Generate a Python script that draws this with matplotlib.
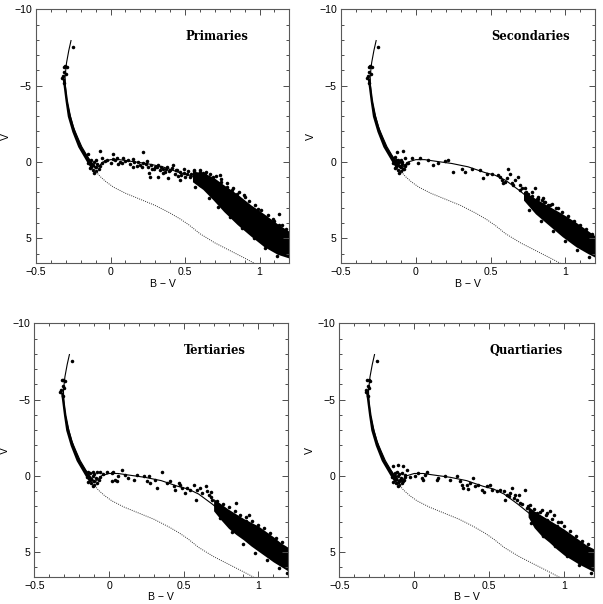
import matplotlib
matplotlib.use('Agg')
import matplotlib.pyplot as plt
from matplotlib.ticker import MultipleLocator

# isochrone (solid) and ZAMS (dotted), same in every panel
iso_bv = [-0.265, -0.28, -0.295, -0.305, -0.303, -0.294, -0.275, -0.25, -0.22, -0.193,
          -0.16, -0.13, -0.11, -0.10, -0.08, -0.05, 0.0, 0.06, 0.13, 0.24, 0.35, 0.46,
          0.53, 0.60, 0.69, 0.80, 0.91, 1.02, 1.13, 1.21]
iso_v = [-7.95, -7.3, -6.5, -5.6, -5.0, -4.05, -3.2, -2.3, -1.6, -1.0,
         -0.45, 0.05, 0.35, 0.45, 0.30, 0.0, -0.15, -0.15, -0.05, 0.10, 0.32, 0.69,
         0.87, 1.20, 1.85, 2.72, 3.60, 4.36, 5.02, 5.46]
zams_bv = [-0.105, -0.07, -0.03, 0.02, 0.10, 0.20, 0.30, 0.40, 0.47, 0.53, 0.60, 0.70,
           0.80, 0.90, 0.97]
zams_v = [0.55, 0.95, 1.30, 1.65, 2.05, 2.45, 2.85, 3.35, 3.75, 4.15, 4.70, 5.30,
          5.80, 6.30, 6.66]

# upper main sequence strip (dense points)
ms_v = [-5.5, -5.0, -4.0, -3.0, -2.0, -1.0, -0.5, 0.0, 0.3]
ms_left = [-0.325, -0.318, -0.305, -0.29, -0.26, -0.22, -0.19, -0.16, -0.14]
ms_right = [-0.307, -0.302, -0.288, -0.268, -0.238, -0.195, -0.163, -0.125, -0.10]

# bright stars at the top and the clump at the turn-off
top_bv = [-0.25, -0.315, -0.305, -0.295, -0.32, -0.31, -0.325, -0.30, -0.31]
top_v = [-7.5, -6.25, -6.3, -6.2, -5.6, -5.9, -5.5, -5.75, -5.2]
clump_bv = [-0.15, -0.13, -0.12, -0.10, -0.10, -0.09, -0.11, -0.13, -0.08, -0.07,
            -0.12, -0.14, -0.10, -0.06, -0.11]
clump_v = [0.10, 0.30, 0.50, 0.60, 0.35, 0.15, 0.00, -0.15, 0.45, 0.25,
           0.20, 0.40, -0.10, 0.05, 0.70]

names = ['Primaries', 'Secondaries', 'Tertiaries', 'Quartiaries']

# Primaries
p1_bv = [-0.148, -0.070, 0.015, 0.221, -0.059, -0.025, 0.019, 0.042, 0.064, 0.087,
         0.120, 0.154, 0.187, 0.199, 0.221, 0.243, 0.254, 0.277, 0.299, 0.322,
         0.333, 0.355, 0.366, 0.378, 0.400, 0.422, 0.434, 0.445, 0.467, 0.490,
         0.512, 0.534, 0.557, 0.568, 0.579, 0.602, 0.613, 0.635, 0.646, 0.669,
         0.691, 0.736, 0.781, 0.814, 0.848, 0.893, 1.005, 1.128, 1.128, 1.094,
         0.266, 0.322, 0.389, 0.568, 0.602, 0.467]
p1_v = [-0.55, -0.71, -0.55, -0.62, -0.23, -0.12, -0.18, -0.27, -0.01, -0.23,
        -0.12, -0.18, -0.01, 0.21, 0.10, -0.05, 0.32, 0.43, 0.32, 0.21,
        0.54, 0.43, 0.65, 0.32, 0.54, 0.21, 0.76, 0.54, 0.65, 0.43,
        0.76, 0.98, 0.60, 0.87, 1.08, 0.69, 0.98, 0.82, 1.08, 1.30,
        0.98, 0.87, 1.63, 1.85, 2.07, 2.18, 3.49, 3.38, 4.15, 4.80,
        0.98, 0.98, 1.08, 1.63, 1.52, 1.19]
p1_more_bv = [-0.04, 0.00, 0.03, 0.05, 0.08, 0.10, 0.13, 0.16, 0.18, 0.21,
              0.24, 0.27, 0.29, 0.31, 0.34, 0.37, 0.39, 0.41, 0.44, 0.47,
              0.49, 0.52, 0.54, 0.59, 0.62, 0.35, 0.26, 0.15, 0.45, 0.50]
p1_more_v = [-0.05, 0.05, -0.10, 0.12, 0.05, -0.05, 0.15, 0.02, 0.25, 0.30,
             0.15, 0.20, 0.45, 0.35, 0.30, 0.45, 0.60, 0.40, 0.55, 0.85,
             0.70, 0.60, 0.80, 0.90, 0.75, 0.75, 0.70, 0.35, 0.95, 1.00]
p1_edge_bv = [0.56, 0.60, 0.64, 0.67, 0.71, 0.74, 0.78, 0.82, 0.86, 0.90,
              0.93, 0.97, 1.01, 1.06, 1.10, 1.15, 1.18, 0.66, 0.72, 0.80,
              0.88, 0.96, 1.04, 1.12, 0.74, 0.83, 0.99, 1.09]
p1_edge_v = [0.50, 0.55, 0.65, 0.80, 0.95, 1.15, 1.40, 1.70, 2.00, 2.30,
             2.55, 2.85, 3.15, 3.50, 3.85, 4.15, 4.40, 2.35, 2.95, 3.60,
             4.35, 5.00, 5.65, 6.15, 1.30, 2.25, 3.10, 3.75]
p1_band_bv = [0.55, 0.62, 0.69, 0.76, 0.85, 0.94, 1.03, 1.12, 1.20]
p1_band_top = [0.60, 0.70, 1.00, 1.50, 2.10, 2.80, 3.40, 4.05, 4.55]
p1_band_bot = [1.30, 1.80, 2.50, 3.25, 4.10, 4.85, 5.55, 6.05, 6.30]

# Secondaries
p2_bv = [-0.128, -0.083, -0.139, -0.117, -0.094, -0.072, -0.106, -0.083, -0.072, -0.128,
         -0.050, -0.028, 0.017, 0.028, 0.084, 0.117, 0.151, 0.195, 0.218, 0.251,
         0.307, 0.329, 0.374, 0.430, 0.452, 0.474, 0.508, 0.552, 0.563, 0.575,
         0.586, 0.597, 0.608, 0.619, 0.630, 0.641, 0.653, 0.664, 0.686, 0.697,
         0.708, 0.731, 0.753, 0.775, 0.798, 0.809, 0.820, 0.842, 0.853, 0.864,
         0.887, 0.909]
p2_v = [-0.66, -0.71, -0.34, -0.12, -0.01, -0.23, 0.25, 0.43, 0.21, 0.10,
        0.10, -0.23, 0.04, -0.23, -0.12, 0.21, 0.10, -0.05, -0.12, 0.69,
        0.43, 0.65, 0.43, 0.54, 1.08, 0.82, 0.76, 0.87, 0.98, 1.19,
        1.41, 1.30, 1.08, 0.43, 0.82, 1.41, 1.52, 1.19, 0.98, 1.52,
        1.74, 1.70, 2.07, 1.96, 1.74, 2.40, 2.29, 2.51, 2.35, 2.62,
        2.83, 2.73]
p2_edge_bv = [0.70, 0.74, 0.78, 0.82, 0.86, 0.90, 0.94, 0.98, 1.02, 1.06,
              1.10, 1.14, 1.18, 0.76, 0.84, 0.92, 1.00, 1.08, 1.16, 0.95, 1.05]
p2_edge_v = [1.85, 2.00, 2.20, 2.45, 2.65, 2.85, 3.05, 3.30, 3.55, 3.85,
             4.15, 4.40, 4.70, 3.15, 3.90, 4.55, 5.20, 5.75, 6.20, 3.00, 3.95]
p2_band_bv = [0.72, 0.80, 0.89, 0.98, 1.07, 1.15, 1.20]
p2_band_top = [1.90, 2.40, 2.90, 3.40, 3.95, 4.50, 4.85]
p2_band_bot = [2.50, 3.40, 4.15, 4.90, 5.55, 6.00, 6.25]

# Tertiaries
p3_bv = [-0.139, -0.105, -0.083, -0.060, -0.038, -0.015, 0.018, 0.029, 0.085, 0.063,
         0.108, 0.130, 0.041, 0.018, 0.052, 0.164, 0.186, 0.231, 0.265, 0.254,
         0.310, 0.276, 0.355, 0.321, 0.388, 0.411, 0.433, 0.444, 0.467, 0.478,
         0.489, 0.511, 0.523, 0.545, 0.567, 0.579, 0.590, 0.612, 0.624, 0.646,
         0.657, 0.668, 0.680, 0.691, 0.713, 0.736, 0.758, 0.780, 0.848, 0.937,
         0.915, 0.960, 1.050, 1.139, 1.157]
p3_v = [-0.28, -0.28, -0.22, -0.28, -0.13, -0.22, -0.18, -0.28, -0.39, 0.00,
        -0.07, 0.15, 0.26, 0.37, 0.37, 0.26, -0.07, 0.04, 0.00, 0.37,
        0.26, 0.48, -0.28, 0.81, 0.48, 0.37, 0.70, 0.92, 0.48, 0.59,
        0.81, 1.14, 0.81, 0.92, 0.59, 1.57, 0.92, 0.81, 1.14, 0.70,
        1.03, 1.24, 1.09, 1.57, 1.90, 2.12, 2.23, 2.55, 1.79, 2.55,
        2.99, 3.54, 3.86, 4.95, 5.17]
p3_edge_bv = [0.68, 0.72, 0.76, 0.80, 0.84, 0.88, 0.92, 0.96, 1.00, 1.04,
              1.08, 1.12, 1.16, 0.74, 0.82, 0.90, 0.98, 1.06, 1.14, 1.19]
p3_edge_v = [1.40, 1.65, 1.85, 2.05, 2.30, 2.55, 2.70, 2.95, 3.20, 3.45,
             3.75, 4.05, 4.35, 2.75, 3.70, 4.45, 5.05, 5.55, 6.05, 6.35]
p3_band_bv = [0.70, 0.75, 0.80, 0.85, 0.90, 0.95, 1.00, 1.05, 1.10, 1.15, 1.20]
p3_band_top = [1.50, 1.85, 2.20, 2.50, 2.80, 3.05, 3.30, 3.65, 4.00, 4.40, 4.70]
p3_band_bot = [2.30, 2.90, 3.45, 3.85, 4.20, 4.60, 4.95, 5.30, 5.65, 5.95, 6.25]

# Quartiaries
p4_bv = [-0.140, -0.107, -0.073, -0.118, -0.084, -0.051, -0.062, -0.129, -0.096, -0.107,
         -0.073, -0.029, 0.005, 0.027, 0.049, 0.060, 0.072, 0.083, 0.150, 0.161,
         0.206, 0.239, 0.284, 0.306, 0.317, 0.328, 0.351, 0.362, 0.373, 0.395,
         0.407, 0.429, 0.451, 0.463, 0.485, 0.507, 0.518, 0.552, 0.574, 0.597,
         0.608, 0.619, 0.630, 0.641, 0.652, 0.663, 0.675, 0.686, 0.697, 0.708,
         0.742, 0.753, 0.775, 0.820, 0.853, 0.887, 0.909, 0.932, 0.887, 0.954,
         1.099]
p4_v = [-0.61, -0.72, -0.66, -0.28, -0.18, -0.39, -0.07, 0.04, 0.26, 0.48,
        0.37, 0.09, 0.00, -0.18, 0.15, 0.26, -0.07, -0.22, 0.26, 0.15,
        0.04, 0.26, 0.04, 0.37, 0.59, 0.81, 0.59, 0.87, 0.48, 0.15,
        0.70, 0.59, 0.92, 1.09, 0.70, 0.59, 0.92, 1.03, 0.92, 1.03,
        1.57, 1.24, 1.35, 1.14, 0.81, 1.46, 1.24, 1.57, 1.24, 1.79,
        0.92, 2.12, 1.90, 2.44, 2.23, 2.44, 2.33, 2.55, 2.88, 3.32,
        4.63]
p4_edge_bv = [0.72, 0.76, 0.80, 0.84, 0.88, 0.92, 0.96, 1.00, 1.04, 1.08,
              1.12, 1.16, 0.78, 0.86, 0.94, 1.02, 1.10, 1.18, 0.98]
p4_edge_v = [1.85, 1.95, 2.15, 2.40, 2.60, 2.85, 3.05, 3.30, 3.60, 3.95,
             4.25, 4.50, 3.10, 3.95, 4.60, 5.25, 5.85, 6.35, 3.05]
p4_band_bv = [0.76, 0.80, 0.85, 0.90, 0.95, 1.00, 1.05, 1.10, 1.15, 1.20]
p4_band_top = [2.00, 2.30, 2.60, 2.90, 3.20, 3.50, 3.85, 4.20, 4.55, 4.80]
p4_band_bot = [2.70, 3.40, 3.95, 4.35, 4.80, 5.20, 5.50, 5.80, 6.05, 6.30]

stars_bv = [p1_bv + p1_more_bv + p1_edge_bv, p2_bv + p2_edge_bv,
            p3_bv + p3_edge_bv, p4_bv + p4_edge_bv]
stars_v = [p1_v + p1_more_v + p1_edge_v, p2_v + p2_edge_v,
           p3_v + p3_edge_v, p4_v + p4_edge_v]
bands = [(p1_band_bv, p1_band_top, p1_band_bot), (p2_band_bv, p2_band_top, p2_band_bot),
         (p3_band_bv, p3_band_top, p3_band_bot), (p4_band_bv, p4_band_top, p4_band_bot)]

# axes boxes in figure fraction, label positions in axes fraction
boxes = [[0.0597, 0.5646, 0.4201, 0.4200], [0.5655, 0.5646, 0.4217, 0.4200],
         [0.0569, 0.0452, 0.4212, 0.4195], [0.5627, 0.0452, 0.4224, 0.4195]]
name_x = [0.714, 0.744, 0.711, 0.732]

plt.rcParams['font.family'] = ['Liberation Sans', 'DejaVu Sans']

fig = plt.figure(figsize=(6.03, 6.04), dpi=100)

for i in range(4):
    ax = fig.add_axes(boxes[i])
    bbv, btop, bbot = bands[i]
    ax.fill_betweenx(ms_v, ms_left, ms_right, color='k', lw=0)
    ax.fill_between(bbv, btop, bbot, color='k', lw=0)
    ax.plot(zams_bv, zams_v, color='0.2', lw=0.7, ls=(0, (1, 1.2)))
    ax.plot(iso_bv, iso_v, color='k', lw=0.8)
    ax.scatter(top_bv, top_v, s=6.5, color='k', lw=0)
    ax.scatter(clump_bv, clump_v, s=6.5, color='k', lw=0)
    ax.scatter(stars_bv[i], stars_v[i], s=6.5, color='k', lw=0)

    ax.set_xlim(-0.5, 1.2)
    ax.set_ylim(6.62, -10)
    ax.xaxis.set_major_locator(MultipleLocator(0.5))
    ax.xaxis.set_minor_locator(MultipleLocator(0.1))
    ax.yaxis.set_major_locator(MultipleLocator(5))
    ax.yaxis.set_minor_locator(MultipleLocator(1))
    ax.tick_params(which='both', direction='in', top=True, right=True,
                   labelsize=7.6, color='0.3', width=0.7, pad=3)
    ax.tick_params(which='major', length=4)
    ax.tick_params(which='minor', length=2)
    ax.xaxis.set_major_formatter(plt.FuncFormatter(
        lambda x, p: '{:g}'.format(x).replace('-', '\u2212')))
    for sp in ax.spines.values():
        sp.set_color('0.35')
        sp.set_linewidth(0.8)
    ax.set_xlabel('B \u2212 V', fontsize=7.6, labelpad=1)
    ax.set_ylabel('V', fontsize=7.6, labelpad=2)
    ax.text(name_x[i], 0.894, names[i], transform=ax.transAxes, ha='center', va='center',
            fontsize=8.3, fontweight='bold', family='DejaVu Serif')

fig.savefig('out.png', dpi=100)
